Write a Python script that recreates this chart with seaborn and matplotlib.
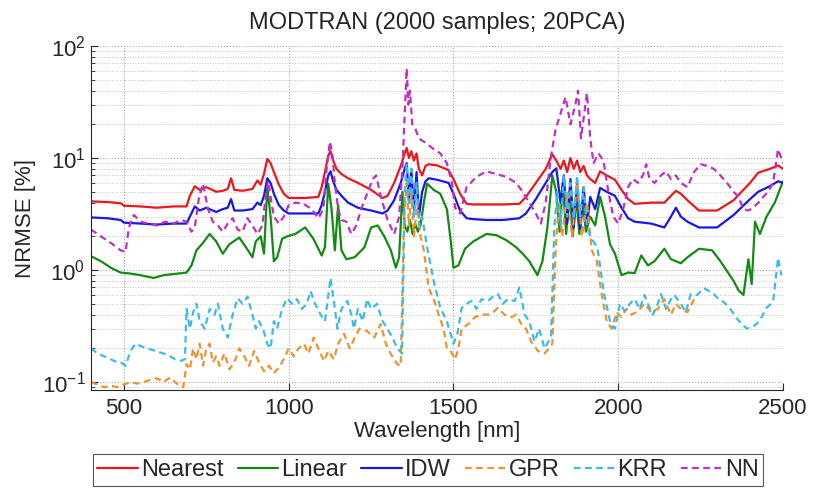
import matplotlib
matplotlib.use("Agg")
import matplotlib.pyplot as plt
import numpy as np
import pandas as pd
import seaborn as sns
from matplotlib.ticker import FixedLocator, LogLocator, NullFormatter

# ---------------- data ----------------
methods = ["Nearest", "Linear", "IDW", "GPR", "KRR", "NN"]

wl_nearest = [400, 450, 490, 500, 550, 600, 650, 690, 700, 715,
              730, 750, 780, 800, 815, 825, 835, 860, 890, 905,
              915, 925, 935, 945, 955, 970, 985, 1000, 1050, 1090,
              1100, 1110, 1120, 1127, 1135, 1145, 1160, 1180, 1210, 1250,
              1285, 1300, 1320, 1340, 1352, 1358, 1365, 1372, 1380, 1388,
              1395, 1405, 1415, 1425, 1450, 1485, 1500, 1520, 1540, 1560,
              1600, 1650, 1700, 1720, 1750, 1780, 1800, 1812, 1825, 1835,
              1845, 1855, 1865, 1875, 1885, 1895, 1905, 1915, 1930, 1945,
              1965, 1990, 2010, 2030, 2050, 2100, 2140, 2160, 2175, 2190,
              2210, 2245, 2300, 2350, 2400, 2425, 2460, 2485, 2500]
nrmse_nearest = [4.1, 4.05, 3.95, 3.75, 3.7, 3.6, 3.7, 3.7, 4.6, 5.6,
                 5.2, 5.5, 5.0, 5.1, 5.3, 6.6, 5.2, 5.1, 5.3, 6.3,
                 5.8, 7.2, 9.8, 9.0, 7.5, 5.8, 4.8, 4.4, 4.4, 4.5,
                 5.5, 7.5, 10.5, 11.5, 9.5, 8.0, 7.2, 6.6, 6.0, 5.2,
                 4.4, 4.6, 6.0, 8.5, 11.0, 12.3, 10.0, 11.5, 9.5, 11.0,
                 8.0, 7.0, 8.5, 8.8, 8.6, 7.8, 6.5, 4.8, 3.9, 3.85,
                 3.85, 3.85, 3.9, 4.5, 6.0, 8.0, 10.8, 9.5, 8.0, 9.5,
                 7.5, 10.0, 8.0, 9.5, 7.5, 8.5, 7.0, 6.5, 6.0, 7.6,
                 7.0, 6.4, 5.2, 4.3, 3.9, 4.0, 4.0, 4.6, 5.1, 4.8,
                 4.2, 3.4, 3.4, 4.2, 6.0, 7.4, 8.0, 8.6, 8.0]

wl_idw = list(wl_nearest)
nrmse_idw = [2.95, 2.9, 2.8, 2.65, 2.6, 2.55, 2.6, 2.6, 3.0, 3.7,
             3.4, 3.6, 3.3, 3.5, 3.6, 4.3, 3.4, 3.4, 3.5, 4.0,
             3.8, 4.6, 6.6, 6.0, 4.8, 3.8, 3.4, 3.2, 3.2, 3.2,
             3.8, 5.0, 7.0, 7.6, 6.2, 5.2, 4.6, 4.0, 3.6, 3.4,
             3.2, 3.4, 4.2, 6.0, 8.0, 9.0, 4.0, 8.0, 3.5, 7.5,
             3.0, 5.0, 6.2, 6.6, 6.4, 6.0, 4.8, 3.4, 2.9, 2.85,
             2.8, 2.8, 2.9, 3.2, 4.3, 6.0, 7.5, 8.1, 4.0, 7.0,
             2.6, 6.5, 2.4, 6.0, 2.3, 5.5, 2.5, 4.5, 3.5, 5.4,
             5.0, 4.6, 3.6, 2.9, 2.7, 2.6, 2.4, 3.0, 3.6, 3.0,
             2.7, 2.4, 2.4, 3.1, 4.3, 5.0, 5.6, 6.2, 6.0]

wl_linear = [400, 430, 460, 490, 520, 550, 590, 620, 650, 690,
             705, 720, 740, 760, 780, 800, 820, 850, 870, 890,
             900, 915, 925, 935, 945, 955, 965, 980, 995, 1020,
             1050, 1075, 1100, 1110, 1120, 1130, 1140, 1150, 1160, 1175,
             1200, 1230, 1250, 1270, 1290, 1310, 1325, 1335, 1345, 1352,
             1360, 1368, 1376, 1384, 1392, 1400, 1410, 1420, 1440, 1460,
             1480, 1492, 1500, 1515, 1535, 1560, 1600, 1630, 1660, 1690,
             1710, 1730, 1755, 1770, 1785, 1800, 1812, 1822, 1832, 1842,
             1852, 1862, 1872, 1882, 1892, 1902, 1915, 1930, 1945, 1960,
             1975, 1990, 2010, 2030, 2050, 2070, 2090, 2110, 2140, 2160,
             2190, 2210, 2245, 2285, 2310, 2330, 2350, 2365, 2380, 2395,
             2405, 2415, 2430, 2450, 2475, 2500]
nrmse_linear = [1.33, 1.2, 1.05, 0.95, 0.93, 0.9, 0.85, 0.9, 0.92, 0.95,
                1.1, 1.5, 1.75, 2.1, 1.8, 1.4, 1.7, 1.95, 1.6, 1.3,
                1.8, 2.0, 1.4, 5.5, 3.0, 1.2, 1.3, 1.9, 2.0, 2.1,
                2.4, 1.9, 1.35, 1.6, 5.9, 3.5, 1.5, 3.8, 1.5, 1.25,
                1.3, 1.6, 2.4, 2.5, 2.0, 1.5, 1.05, 1.3, 5.0, 2.5,
                2.2, 2.8, 2.1, 2.6, 2.2, 2.5, 4.0, 5.9, 5.2, 4.8,
                3.5, 1.8, 1.05, 1.1, 1.55, 1.8, 2.1, 2.05, 1.85, 1.6,
                1.4, 1.2, 0.9, 1.2, 2.4, 7.0, 5.0, 2.2, 6.0, 2.1,
                5.0, 2.0, 4.5, 2.1, 4.0, 2.2, 3.0, 2.5, 4.5, 3.0,
                1.7, 1.4, 0.9, 0.95, 0.94, 1.35, 1.1, 1.2, 1.55, 1.25,
                1.15, 1.3, 1.55, 1.5, 1.2, 0.98, 0.8, 0.66, 0.6, 1.25,
                0.75, 2.7, 2.1, 3.0, 4.0, 6.2]

wl_gpr = [400, 420, 440, 460, 480, 500, 520, 540, 560, 580,
          600, 620, 640, 655, 670, 680, 690, 700, 710, 720,
          730, 740, 750, 760, 770, 780, 790, 805, 820, 835,
          850, 865, 880, 895, 910, 925, 940, 955, 970, 985,
          1000, 1015, 1030, 1046, 1060, 1076, 1090, 1107, 1120, 1137,
          1150, 1168, 1185, 1198, 1215, 1238, 1260, 1279, 1295, 1309,
          1320, 1329, 1340, 1350, 1358, 1365, 1372, 1380, 1390, 1400,
          1410, 1425, 1440, 1455, 1470, 1480, 1491, 1505, 1515, 1525,
          1545, 1565, 1585, 1605, 1620, 1635, 1655, 1676, 1690, 1706,
          1720, 1736, 1756, 1776, 1790, 1800, 1810, 1820, 1830, 1845,
          1860, 1875, 1890, 1905, 1920, 1935, 1950, 1965, 1980, 1995,
          2010, 2025, 2040, 2060, 2080, 2100, 2120, 2140, 2160, 2175,
          2190, 2210, 2230]
nrmse_gpr = [0.1, 0.095, 0.09, 0.093, 0.09, 0.095, 0.1, 0.097, 0.1, 0.105,
             0.108, 0.1, 0.11, 0.1, 0.092, 0.09, 0.145, 0.13, 0.2, 0.16,
             0.22, 0.14, 0.2, 0.22, 0.15, 0.17, 0.14, 0.18, 0.13, 0.15,
             0.2, 0.17, 0.14, 0.19, 0.15, 0.125, 0.14, 0.12, 0.135, 0.16,
             0.2, 0.17, 0.2, 0.22, 0.18, 0.25, 0.2, 0.154, 0.19, 0.16,
             0.22, 0.27, 0.2, 0.24, 0.3, 0.285, 0.25, 0.33, 0.22, 0.18,
             0.16, 0.145, 0.14, 3.0, 6.0, 2.5, 5.0, 2.0, 4.0, 2.0,
             1.5, 0.69, 0.55, 0.4, 0.3, 0.2, 0.19, 0.16, 0.2, 0.3,
             0.33, 0.38, 0.4, 0.4, 0.42, 0.46, 0.4, 0.38, 0.4, 0.33,
             0.3, 0.23, 0.19, 0.18, 0.2, 0.22, 1.5, 4.0, 2.0, 5.0,
             2.0, 6.0, 2.0, 4.0, 1.5, 1.2, 0.6, 0.35, 0.3, 0.42,
             0.38, 0.45, 0.4, 0.43, 0.5, 0.42, 0.45, 0.55, 0.4, 0.5,
             0.45, 0.42, 0.55]

wl_krr = [400, 420, 440, 460, 480, 490, 505, 520, 535, 550,
          570, 595, 620, 640, 655, 675, 685, 690, 700, 710,
          720, 730, 745, 760, 775, 785, 800, 815, 830, 845,
          860, 875, 890, 900, 910, 925, 935, 945, 955, 965,
          980, 995, 1010, 1025, 1040, 1055, 1066, 1080, 1097, 1110,
          1127, 1138, 1148, 1160, 1178, 1190, 1198, 1210, 1225, 1238,
          1250, 1268, 1285, 1299, 1315, 1329, 1344, 1352, 1358, 1365,
          1372, 1380, 1388, 1396, 1405, 1420, 1440, 1460, 1480, 1500,
          1512, 1525, 1540, 1555, 1570, 1585, 1605, 1620, 1635, 1650,
          1665, 1686, 1700, 1716, 1730, 1746, 1760, 1776, 1796, 1806,
          1815, 1825, 1835, 1845, 1855, 1865, 1875, 1885, 1895, 1905,
          1915, 1925, 1937, 1957, 1977, 1990, 2005, 2020, 2035, 2050,
          2065, 2080, 2090, 2105, 2120, 2130, 2145, 2160, 2170, 2190,
          2205, 2220, 2240, 2260, 2275, 2290, 2305, 2320, 2340, 2360,
          2375, 2390, 2405, 2420, 2435, 2450, 2470, 2485, 2495]
nrmse_krr = [0.2, 0.18, 0.17, 0.16, 0.15, 0.15, 0.14, 0.19, 0.22, 0.21,
             0.2, 0.19, 0.18, 0.17, 0.16, 0.155, 0.16, 0.45, 0.3, 0.42,
             0.5, 0.35, 0.3, 0.45, 0.4, 0.5, 0.3, 0.25, 0.4, 0.56,
             0.5, 0.58, 0.4, 0.3, 0.35, 0.28, 0.22, 0.2, 0.35, 0.3,
             0.45, 0.56, 0.5, 0.55, 0.45, 0.5, 0.65, 0.5, 0.4, 0.35,
             0.85, 0.5, 0.3, 0.45, 0.53, 0.4, 0.3, 0.45, 0.35, 0.55,
             0.45, 0.5, 0.35, 0.3, 0.25, 0.2, 0.18, 5.0, 9.0, 4.0,
             8.0, 3.0, 6.0, 2.5, 3.0, 1.6, 0.8, 0.46, 0.35, 0.22,
             0.27, 0.46, 0.5, 0.53, 0.45, 0.55, 0.53, 0.58, 0.61, 0.5,
             0.55, 0.53, 0.7, 0.4, 0.35, 0.23, 0.3, 0.2, 0.25, 2.4,
             5.0, 2.5, 7.0, 3.0, 6.0, 2.8, 7.0, 3.0, 5.5, 2.5,
             2.0, 1.8, 1.57, 0.61, 0.33, 0.3, 0.5, 0.43, 0.5, 0.55,
             0.45, 0.6, 0.5, 0.4, 0.5, 0.61, 0.45, 0.55, 0.6, 0.5,
             0.42, 0.61, 0.6, 0.69, 0.65, 0.61, 0.55, 0.52, 0.45, 0.37,
             0.33, 0.3, 0.31, 0.33, 0.38, 0.46, 0.52, 1.28, 0.9]

wl_nn = [400, 430, 460, 490, 505, 515, 530, 550, 575, 600,
         625, 650, 675, 690, 705, 715, 728, 740, 755, 770,
         785, 800, 815, 830, 845, 860, 875, 890, 905, 920,
         930, 937, 945, 955, 970, 985, 1000, 1020, 1045, 1070,
         1090, 1105, 1115, 1125, 1132, 1140, 1150, 1160, 1175, 1190,
         1205, 1220, 1240, 1255, 1265, 1280, 1300, 1320, 1335, 1345,
         1352, 1358, 1363, 1368, 1375, 1385, 1395, 1410, 1425, 1440,
         1460, 1480, 1495, 1505, 1520, 1540, 1570, 1600, 1630, 1660,
         1690, 1710, 1730, 1750, 1765, 1780, 1795, 1810, 1825, 1840,
         1855, 1870, 1878, 1887, 1897, 1905, 1915, 1925, 1940, 1955,
         1970, 1985, 2000, 2015, 2030, 2045, 2060, 2075, 2085, 2095,
         2110, 2130, 2145, 2160, 2175, 2190, 2210, 2230, 2250, 2270,
         2290, 2310, 2330, 2350, 2365, 2380, 2395, 2410, 2425, 2440,
         2455, 2470, 2485, 2500]
nrmse_nn = [2.3, 2.0, 1.75, 1.5, 1.45, 2.4, 3.1, 2.7, 2.6, 2.5,
            2.7, 2.6, 2.8, 2.7, 2.2, 2.4, 4.5, 5.9, 3.5, 2.7,
            2.5, 2.2, 2.6, 2.9, 2.3, 2.2, 2.9, 2.5, 2.1, 2.5,
            4.5, 6.2, 4.5, 3.0, 2.6, 3.0, 3.8, 4.0, 3.9, 3.5,
            2.9, 3.5, 8.0, 14.0, 11.0, 6.0, 3.5, 2.8, 2.7, 2.1,
            2.5, 3.5, 5.0, 6.5, 7.0, 4.5, 2.8, 2.1, 3.0, 8.0,
            25.0, 63.0, 30.0, 40.0, 20.0, 18.0, 15.0, 14.0, 13.0, 12.0,
            11.0, 9.0, 6.0, 3.6, 3.2, 5.5, 6.8, 7.6, 7.2, 6.8,
            6.0, 5.0, 4.0, 3.2, 2.6, 4.0, 10.0, 18.0, 25.0, 35.0,
            20.0, 30.0, 40.0, 15.0, 25.0, 38.0, 15.0, 9.0, 11.0, 9.5,
            5.0, 3.0, 2.6, 3.5, 5.5, 6.5, 6.0, 7.0, 8.8, 6.5,
            6.0, 7.0, 7.6, 6.5, 7.0, 6.0, 5.5, 7.5, 8.8, 8.5,
            8.0, 7.0, 6.0, 5.0, 4.5, 3.5, 3.4, 3.6, 4.0, 4.5,
            5.0, 6.0, 12.0, 9.0]

x_ticks = [500, 1000, 1500, 2000, 2500]

series = {
    "Nearest": (wl_nearest, nrmse_nearest),
    "Linear": (wl_linear, nrmse_linear),
    "IDW": (wl_idw, nrmse_idw),
    "GPR": (wl_gpr, nrmse_gpr),
    "KRR": (wl_krr, nrmse_krr),
    "NN": (wl_nn, nrmse_nn),
}
frames = []
for name, (wl, val) in series.items():
    assert len(wl) == len(val), (name, len(wl), len(val))
    frames.append(pd.DataFrame({"Wavelength": wl, "NRMSE": val, "Method": name}))
df = pd.concat(frames, ignore_index=True)

# ---------------- styling ----------------
palette = {"Nearest": "#e8181c", "Linear": "#138a13", "IDW": "#1717e6",
           "GPR": "#f0922e", "KRR": "#3cbbe8", "NN": "#c22ec2"}
dashes = {"Nearest": "", "Linear": "", "IDW": "",
          "GPR": (3, 2), "KRR": (3, 2), "NN": (3, 2)}

sns.set_theme(style="white")
plt.rcParams["font.family"] = ["Liberation Sans", "DejaVu Sans"]
plt.rcParams["mathtext.default"] = "regular"
FS = 16

W, H = 813, 492
fig = plt.figure(figsize=(W / 100, H / 100), dpi=100)
ax = fig.add_axes([91 / W, 1 - 390 / H, (783 - 91) / W, (390 - 46) / H])

sns.lineplot(data=df, x="Wavelength", y="NRMSE", hue="Method", style="Method",
             hue_order=methods, style_order=methods, palette=palette,
             dashes=dashes, estimator=None, sort=False, linewidth=1.6, ax=ax)

ax.set_yscale("log")
ax.set_xlim(400, 2500)
ax.set_ylim(0.085, 100)
ax.xaxis.set_major_locator(FixedLocator(x_ticks))
ax.yaxis.set_major_locator(LogLocator(base=10, numticks=10))
ax.yaxis.set_minor_locator(LogLocator(base=10, subs=np.arange(2, 10), numticks=20))
ax.yaxis.set_minor_formatter(NullFormatter())

ax.grid(True, which="major", linestyle=":", color="#a8a8a8", linewidth=0.8)
ax.grid(True, which="minor", axis="y", linestyle=":", color="#c4c4c4", linewidth=0.7)
ax.set_axisbelow(True)

for side in ["top", "right"]:
    ax.spines[side].set_visible(False)
for side in ["left", "bottom"]:
    ax.spines[side].set_color("#262626")
    ax.spines[side].set_linewidth(0.8)

ax.tick_params(axis="both", which="major", direction="in", length=5, width=0.8,
               colors="#262626", labelsize=FS, left=True, bottom=True)
ax.tick_params(axis="y", which="minor", direction="in", length=3, width=0.6,
               colors="#262626", left=True)
ax.tick_params(axis="x", which="major", pad=6)
ax.tick_params(axis="y", which="major", pad=4)

ax.set_xlabel("Wavelength [nm]", fontsize=FS, color="#262626", labelpad=1)
ax.set_ylabel("NRMSE [%]", fontsize=FS, color="#262626", labelpad=4)
ax.set_title("MODTRAN (2000 samples; 20PCA)", fontsize=17, color="#262626", pad=12)

handles, labels = ax.get_legend_handles_labels()
ax.get_legend().remove()
leg = fig.legend(handles, labels, loc="center", bbox_to_anchor=(428 / W, 1 - 470 / H),
                 ncol=6, fontsize=17, frameon=True, fancybox=False, framealpha=1,
                 edgecolor="#555555", handlelength=1.7, handletextpad=0.15,
                 columnspacing=0.6, borderpad=0.2, borderaxespad=0)
leg.get_frame().set_linewidth(0.8)
for t in leg.get_texts():
    t.set_color("#262626")

fig.savefig("out.png", dpi=100)
